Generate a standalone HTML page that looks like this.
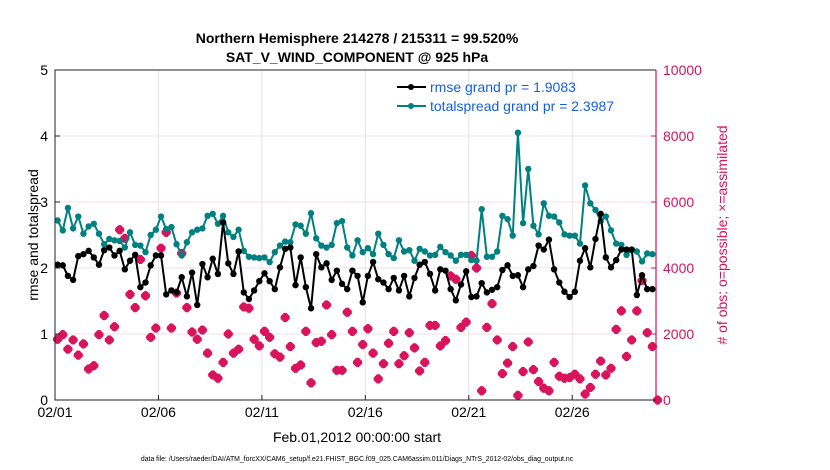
<!DOCTYPE html>
<html><head><meta charset="utf-8"><style>
html,body{margin:0;padding:0;background:#fff;}
svg{display:block;font-family:"Liberation Sans",sans-serif;}
</style></head><body>
<svg id="chart" width="830" height="470" viewBox="0 0 830 470">
<text x="357" y="43" text-anchor="middle" font-size="14" font-weight="bold">Northern Hemisphere 214278 / 215311 = 99.520%</text>
<text x="357" y="62" text-anchor="middle" font-size="14" font-weight="bold">SAT_V_WIND_COMPONENT @ 925 hPa</text>
<g id="grid"></g>
<g id="marks"></g>
<g id="axes"></g>
<text x="0" y="0" transform="translate(38,235) rotate(-90)" text-anchor="middle" font-size="14">rmse and totalspread</text>
<text x="0" y="0" transform="translate(727,235) rotate(-90)" text-anchor="middle" font-size="14" fill="#d4145a"># of obs: o=possible; ×=assimilated</text>
<text x="357" y="442" text-anchor="middle" font-size="14">Feb.01,2012 00:00:00 start</text>
<text x="357" y="461" text-anchor="middle" font-size="6.9">data file: /Users/raeder/DAI/ATM_forcXX/CAM6_setup/f.e21.FHIST_BGC.f09_025.CAM6assim.011/Diags_NTrS_2012-02/obs_diag_output.nc</text>
<g>
<line x1="397" y1="87" x2="426" y2="87" stroke="#000" stroke-width="2"/><circle cx="411" cy="87" r="3" fill="#000"/>
<text x="430" y="92" font-size="14" fill="#1560e0">rmse grand pr = 1.9083</text>
<line x1="397" y1="106" x2="426" y2="106" stroke="#008080" stroke-width="2"/><circle cx="411" cy="106" r="3" fill="#008080"/>
<text x="430" y="111" font-size="14" fill="#1560e0">totalspread grand pr = 2.3987</text>
</g>
</svg>
<script>
const rmse=[2.05,2.04,1.88,1.82,2.18,2.21,2.26,2.16,2.05,2.27,2.31,2.19,2.26,1.98,2.11,2.2,1.71,1.78,2.04,2.19,2.19,1.6,1.66,1.63,1.86,1.57,1.93,1.44,2.06,1.86,
2.14,1.91,2.69,2.07,1.91,2.25,1.63,1.53,1.66,1.8,1.92,1.8,1.68,2.01,2.29,2.31,1.74,2.16,1.71,1.39,2.21,2.01,2.07,1.82,1.96,1.76,1.68,1.96,1.88,
1.48,1.88,2.09,1.83,1.78,1.68,1.85,1.66,1.88,1.57,1.85,2.05,2.09,1.91,1.66,1.98,1.96,1.68,1.51,1.75,1.95,1.56,1.57,1.77,1.63,1.67,1.71,1.97,2.04,
1.88,1.89,1.71,1.98,2.03,2.34,2.28,2.43,1.98,1.78,1.64,1.56,1.64,2.11,2.3,2.01,2.44,2.82,2.16,2.01,2.12,2.28,2.28,2.28,1.59,1.89,1.68,1.68];
const spread=[2.72,2.57,2.91,2.6,2.78,2.52,2.63,2.67,2.52,2.36,2.44,2.42,2.41,2.31,2.54,2.35,2.34,2.24,2.5,2.58,2.78,2.59,2.62,2.36,2.19,2.39,2.54,2.58,2.6,2.79,
2.82,2.67,2.79,2.54,2.47,2.58,2.26,2.17,2.16,2.15,2.16,2.09,2.24,2.34,2.4,2.39,2.66,2.64,2.52,2.83,2.45,2.34,2.31,2.35,2.68,2.71,2.31,2.19,2.42,
2.24,2.3,2.21,2.52,2.35,2.21,2.15,2.42,2.25,2.27,2.11,2.29,2.25,2.19,2.2,2.32,2.24,2.19,2.11,2.2,2.2,2.12,2.11,2.89,2.17,2.17,2.25,2.79,2.74,
2.49,4.05,2.68,3.5,2.64,2.51,2.98,2.79,2.78,2.69,2.51,2.49,2.49,2.37,3.25,2.98,2.88,2.71,2.78,2.57,2.37,2.35,2.2,2.27,2.25,2.1,2.22,2.21];
const obsUsed=[1840,1980,1540,1820,1360,1700,940,1040,1980,2560,1820,2220,5160,4900,3200,2800,4260,3160,1900,2180,4600,5080,2180,3240,4440,2800,2060,1840,2120,1420,
760,660,1140,2000,1420,1540,2820,2780,1840,1640,2080,1900,1400,1300,2500,1620,960,1060,2080,520,1740,1780,2880,1980,900,900,2660,2080,1140,
1680,2160,1420,640,1100,1720,2080,1100,1340,2040,1580,880,1140,2260,2260,1640,1800,3760,3660,2200,2360,4380,4000,280,2200,2920,1820,800,1120,
1620,140,860,1760,920,560,360,280,1140,720,660,680,780,640,180,380,780,1180,760,960,2140,2700,1320,1820,2700,3620,2040,1620,0];
const xTickLabels=["02/01","02/06","02/11","02/16","02/21","02/26"];
const xTickDays=[0,5,10,15,20,25];
const leftTicks=[0,1,2,3,4,5];
const rightTicks=[0,2000,4000,6000,8000,10000];

const L=55,R=656,T=70,B=400,DMAX=29.05;
const xs=d=>L+d/DMAX*(R-L);
const xi=i=>xs((i+0.5)*0.25);
const yl=v=>B-v/5*(B-T);
const yr=v=>B-v/10000*(B-T);
const NS="http://www.w3.org/2000/svg";
function mk(tag,attrs,parent){const e=document.createElementNS(NS,tag);for(const k in attrs)e.setAttribute(k,attrs[k]);parent.appendChild(e);return e;}
const grid=document.getElementById('grid'),marks=document.getElementById('marks'),axes=document.getElementById('axes');

xTickDays.forEach((d,i)=>{
  const g=mk('line',{x1:xs(d),x2:xs(d),y1:T,y2:B,stroke:'#e4e4e4','stroke-width':1},grid);
  
  
  const t=mk('line',{x1:xs(d),x2:xs(d),y1:B,y2:B-5,stroke:'#222','stroke-width':1},axes);
  
  
  const lb=mk('text',{x:xs(d),y:B+17,'text-anchor':'middle','font-size':14},axes);
  lb.textContent=xTickLabels[i];
  
  
});
leftTicks.forEach(v=>{
  if(v>0&&v<5){const g=mk('line',{x1:L,x2:R,y1:yl(v),y2:yl(v),stroke:'#f3dde6','stroke-width':1},grid);
  
  }
  const t=mk('line',{x1:L,x2:L+5,y1:yl(v),y2:yl(v),stroke:'#222'},axes);
  
  
  const lb=mk('text',{x:L-7,y:yl(v)+5,'text-anchor':'end','font-size':14},axes);
  lb.textContent=v;
  
  
});
rightTicks.forEach(v=>{
  const t=mk('line',{x1:R-5,x2:R,y1:yr(v),y2:yr(v),stroke:'#d4145a'},axes);
  
  
  const lb=mk('text',{x:R+7,y:yr(v)+5,'font-size':14,fill:'#d4145a'},axes);
  lb.textContent=v;
  
  
});
const fr=mk('path',{d:`M${R},${T} L${L},${T} L${L},${B} L${R},${B}`,fill:'none',stroke:'#222','stroke-width':1},axes);


const ra=mk('line',{x1:R,x2:R,y1:T,y2:B,stroke:'#d4145a','stroke-width':1.2},axes);



obsUsed.forEach((v,i)=>{
  const x=xi(i),y=yr(v),a=4.6,b=1.3;
  const p=mk('path',{d:`M${x-b},${y-a} L${x+b},${y-a} L${x+a},${y-b} L${x+a},${y+b} L${x+b},${y+a} L${x-b},${y+a} L${x-a},${y+b} L${x-a},${y-b} Z`,fill:'#d9145c'},marks);
  
  
});
function series(arr,color,name){
  const pl=mk('polyline',{points:arr.map((v,i)=>xi(i)+','+yl(v)).join(' '),fill:'none',stroke:color,'stroke-width':2,'stroke-linejoin':'round'},marks);
  
  
  arr.forEach((v,i)=>{
    const c=mk('circle',{cx:xi(i),cy:yl(v),r:3.2,fill:color},marks);
    
    
  });
}
series(spread,'#008080','totalspread');
series(rmse,'#000000','rmse');
</script>
</body></html>
